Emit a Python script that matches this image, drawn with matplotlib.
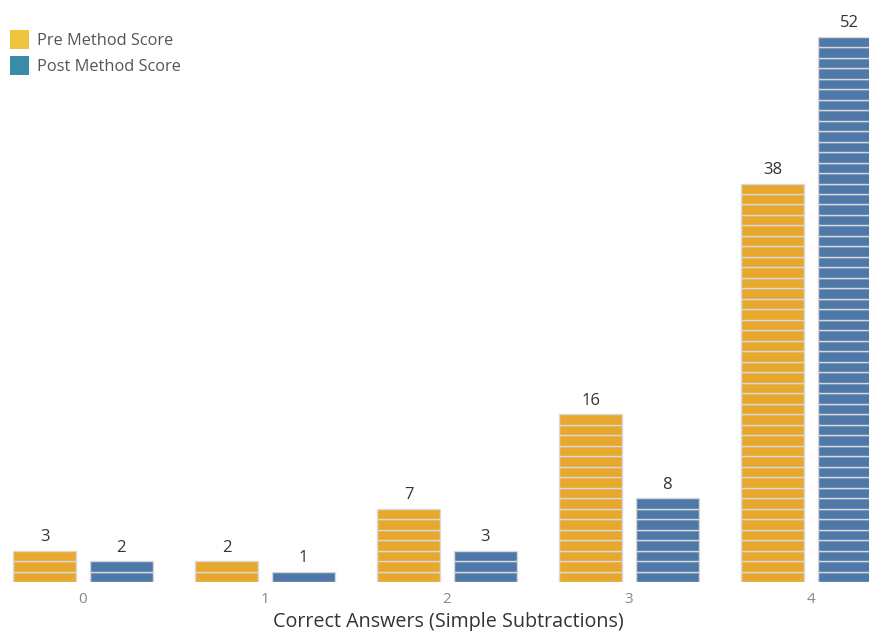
import numpy as np
import matplotlib.pyplot as plt
from matplotlib.patches import Patch

plt.rcParams['font.family'] = ['Open Sans', 'DejaVu Sans']

categories = ['0', '1', '2', '3', '4']
pre_scores = [3, 2, 7, 16, 38]
post_scores = [2, 1, 3, 8, 52]

pre_color = '#E8A82E'
post_color = '#4E78A8'
pre_legend = '#EFC43F'
post_legend = '#3A8BA6'

fig = plt.figure(figsize=(8.69, 6.31), dpi=100)
ax = fig.add_axes([0, 49 / 631, 1, 582 / 631])

x = np.arange(len(categories))
width = 0.346
offset = 0.21

for xs, vals, col in [(x - offset, pre_scores, pre_color), (x + offset, post_scores, post_color)]:
    for xi, v in zip(xs, vals):
        # one segment per unit, stacked
        ax.bar([xi] * v, [1] * v, bottom=np.arange(v), width=width,
               color=col, edgecolor='#d8d8d8', linewidth=1.0)
        ax.text(xi, v + 0.5, str(v), ha='center', va='bottom',
                fontsize=12, color='#333333')

ax.set_xlim(-0.456, 4.319)
ax.set_ylim(0, 55.5)
ax.axhline(0, color='#aaaaaa', linestyle=(0, (2, 2)), linewidth=0.8)

ax.set_xticks(x)
ax.set_xticklabels(categories, fontsize=11, color='#888888')
ax.tick_params(axis='x', length=0, pad=7)
ax.set_yticks([])
for s in ax.spines.values():
    s.set_visible(False)

ax.set_xlabel('Correct Answers (Simple Subtractions)', fontsize=14.2,
              color='#333333')
ax.xaxis.set_label_coords(448 / 869, -0.052)

handles = [Patch(facecolor=pre_legend, label='Pre Method Score'),
           Patch(facecolor=post_legend, label='Post Method Score')]
fig.legend(handles=handles, loc='upper left', bbox_to_anchor=(10 / 869, 1 - 30 / 631),
           frameon=False, fontsize=11.8, handlelength=1.15, handleheight=1.4,
           handletextpad=0.5, labelspacing=0.45, borderpad=0, borderaxespad=0,
           labelcolor='#555555')

fig.savefig('out.png', dpi=100)
